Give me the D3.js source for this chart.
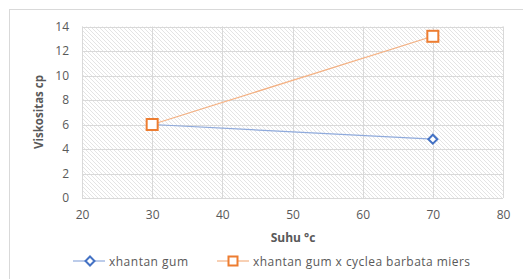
<!DOCTYPE html>
<html><head><meta charset="utf-8">
<script src="https://cdn.jsdelivr.net/npm/d3@7"></script>
<style>body{margin:0;background:#fff}svg{display:block;font-family:"Open Sans","Noto Sans",sans-serif}</style>
</head><body><svg id="c" width="523" height="279"></svg>
<script>
const xTicks = [20,30,40,50,60,70,80];
const yTicks = [0,2,4,6,8,10,12,14];
const seriesNames = ["xhantan gum","xhantan gum x cyclea barbata miers"];
const xValues = [30,70];
const gumValues = [6.0,4.8];
const mixValues = [6.0,13.2];
const colors = ["#4472C4","#ED7D31"];
const lineColors = ["#8FAADC","#F4B183"];

const svg = d3.select("#c");
const defs = svg.append("defs");
const pat = defs.append("pattern").attr("id","hatch").attr("patternUnits","userSpaceOnUse").attr("width",4).attr("height",4);
pat.append("rect").attr("width",4).attr("height",4).attr("fill","#fff");
pat.append("path").attr("d","M-1,-1 L5,5 M-1,3 L1,5 M3,-1 L5,1").attr("stroke","#e4e4e4").attr("stroke-width",1);

svg.append("rect").attr("x",9.5).attr("y",9.5).attr("width",530).attr("height",280).attr("fill","#fff").attr("stroke","#d9d9d9");

const x = d3.scaleLinear().domain([20,80]).range([82,503]);
const y = d3.scaleLinear().domain([0,14]).range([198,26.5]);

svg.append("rect").attr("x",x(20)).attr("y",y(14)).attr("width",x(80)-x(20)).attr("height",y(0)-y(14)).attr("fill","url(#hatch)");

const grid = svg.append("g");
grid.selectAll("line.h").data(yTicks).join("line").attr("class","h")
  .attr("x1",x(20)).attr("x2",x(80)).attr("y1",d=>Math.round(y(d))+0.5).attr("y2",d=>Math.round(y(d))+0.5)
  .attr("stroke","#d9d9d9");
grid.selectAll("line.v").data(xTicks).join("line").attr("class","v")
  .attr("y1",y(0)).attr("y2",y(14)).attr("x1",d=>Math.round(x(d))+0.5).attr("x2",d=>Math.round(x(d))+0.5)
  .attr("stroke","#d9d9d9");

const yAxis = svg.append("g").attr("transform",`translate(${x(20)},0)`)
  .call(d3.axisLeft(y).tickValues(yTicks).tickSize(0).tickPadding(13));
const xAxis = svg.append("g").attr("transform",`translate(0,${y(0)})`)
  .call(d3.axisBottom(x).tickValues(xTicks).tickSize(0).tickPadding(12));
[yAxis,xAxis].forEach(a=>{a.select(".domain").remove();a.selectAll("text").attr("fill","#595959").style("font-size","12px").style("font-family","'Open Sans','Noto Sans',sans-serif");});

svg.append("text").attr("transform","translate(43,112) rotate(-90)").attr("text-anchor","middle")
  .attr("fill","#595959").style("font-size","11.5px").style("font-weight","bold").text("Viskositas cp");
svg.append("text").attr("x",293).attr("y",242).attr("text-anchor","middle")
  .attr("fill","#595959").style("font-size","12px").style("font-weight","bold").text("Suhu °c");

const data = [gumValues, mixValues];
const line = d3.line().x((d,i)=>x(xValues[i])).y(d=>y(d));
data.forEach((vals,k)=>{
  svg.append("path").attr("d",line(vals)).attr("fill","none").attr("stroke",lineColors[k]).attr("stroke-width",1.2);
});
function marker(g,k,cx,cy){
  if(k===0){
    g.append("path").attr("d",`M${cx},${cy-4.5} L${cx+4.5},${cy} L${cx},${cy+4.5} L${cx-4.5},${cy} Z`)
     .attr("fill","#fff").attr("stroke",colors[0]).attr("stroke-width",2);
  } else {
    g.append("rect").attr("x",cx-5.5).attr("y",cy-5.5).attr("width",11).attr("height",11)
     .attr("fill","#fff").attr("stroke",colors[1]).attr("stroke-width",2);
  }
}
data.forEach((vals,k)=>{
  vals.forEach((v,i)=>marker(svg,k,x(xValues[i]),y(v)));
});

// legend
const leg = [{x1:73,x2:105,m:90,t:109,w:79},{x1:217,x2:249,m:233,t:253,w:217}];
leg.forEach((L,k)=>{
  const ly=261;
  svg.append("line").attr("x1",L.x1).attr("x2",L.x2).attr("y1",ly).attr("y2",ly).attr("stroke",lineColors[k]).attr("stroke-width",1.2);
  if(k===0) marker(svg,0,L.m,ly);
  else {
    svg.append("rect").attr("x",L.m-4.5).attr("y",ly-4.5).attr("width",9).attr("height",9).attr("fill","#fff").attr("stroke",colors[1]).attr("stroke-width",2);
  }
  svg.append("text").attr("x",L.t).attr("y",ly+4.5).attr("fill","#595959").style("font-size","12px")
    .attr("textLength",L.w).attr("lengthAdjust","spacing").text(seriesNames[k]);
});
</script></body></html>
